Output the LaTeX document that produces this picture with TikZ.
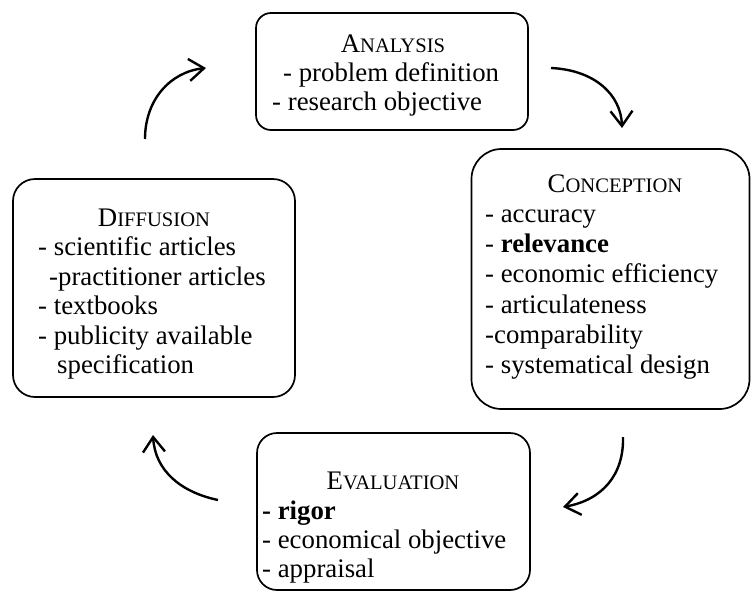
\documentclass[tikz,border=0pt]{standalone}
\usepackage{fontspec}
\setmainfont{Liberation Serif}
\usetikzlibrary{arrows.meta}
\newcommand{\fsc}[2]{#1{\fontsize{20.6}{20.6}\selectfont #2}}
\begin{document}
\begin{tikzpicture}[x=1pt,y=-1pt,
  box/.style={draw, line width=1.7pt, inner sep=0pt},
  txt/.style={inner sep=0pt, font=\fontsize{26.8}{30}\selectfont},
  flow/.style={line width=2.4pt, -{Straight Barb[length=15pt,width=22pt]}}
]
\useasboundingbox (0,0) rectangle (751,592);

% boxes
\node[box, rounded corners=15pt, minimum width=272pt, minimum height=117pt] (ana) at (392,71.5) {};
\node[box, rounded corners=30pt, minimum width=278pt, minimum height=260pt] (con) at (610.5,279) {};
\node[box, rounded corners=22pt, minimum width=282pt, minimum height=218pt] (dif) at (154,288) {};
\node[box, rounded corners=20pt, minimum width=273pt, minimum height=157pt] (eva) at (393.5,511.5) {};

% Analysis
\node[txt, anchor=base] (anaH) at (393,52) {\fsc{A}{NALYSIS}};
\node[txt, anchor=base west] (ana1) at (283,81) {- problem definition};
\node[txt, anchor=base west] (ana2) at (272,110) {- research objective};

% Conception
\node[txt, anchor=base] (conH) at (615,192) {\fsc{C}{ONCEPTION}};
\node[txt, anchor=base west] (con1) at (485,222.3) {- accuracy};
\node[txt, anchor=base west] (con2) at (485,252.6) {- \textbf{relevance}};
\node[txt, anchor=base west] (con3) at (485,282.9) {- economic efficiency};
\node[txt, anchor=base west] (con4) at (485,313.2) {- articulateness};
\node[txt, anchor=base west] (con5) at (485,343.5) {-comparability};
\node[txt, anchor=base west] (con6) at (485,373.8) {- systematical design};

% Diffusion
\node[txt, anchor=base] (difH) at (154,226) {\fsc{D}{IFFUSION}};
\node[txt, anchor=base west] (dif1) at (38,255.5) {- scientific articles};
\node[txt, anchor=base west] (dif2) at (49,285) {-practitioner articles};
\node[txt, anchor=base west] (dif3) at (38,314.5) {- textbooks};
\node[txt, anchor=base west] (dif4) at (38,344) {- publicity available};
\node[txt, anchor=base west] (dif5) at (57,373.5) {specification};

% Evaluation
\node[txt, anchor=base] (evaH) at (393,489) {\fsc{E}{VALUATION}};
\node[txt, anchor=base west] (eva1) at (262,519) {\textbf{- rigor}};
\node[txt, anchor=base west] (eva2) at (262,548) {- economical objective};
\node[txt, anchor=base west] (eva3) at (262,577) {- appraisal};

% arrow end points
\coordinate (a1s) at (551,68);   \coordinate (a1e) at (622,128);
\coordinate (a2s) at (623,437);  \coordinate (a2e) at (563,507);
\coordinate (a3s) at (218,500);  \coordinate (a3e) at (153,435);
\coordinate (a4s) at (145,139);  \coordinate (a4e) at (206,68);

\draw[flow] (a1s) .. controls (595,70) and (621,95) .. (a1e);
\draw[flow] (a2s) .. controls (624,475) and (602,500) .. (a2e);
\draw[flow] (a3s) .. controls (180,492) and (155,470) .. (a3e);
\draw[flow] (a4s) .. controls (145,100) and (170,72) .. (a4e);
\end{tikzpicture}
\end{document}
